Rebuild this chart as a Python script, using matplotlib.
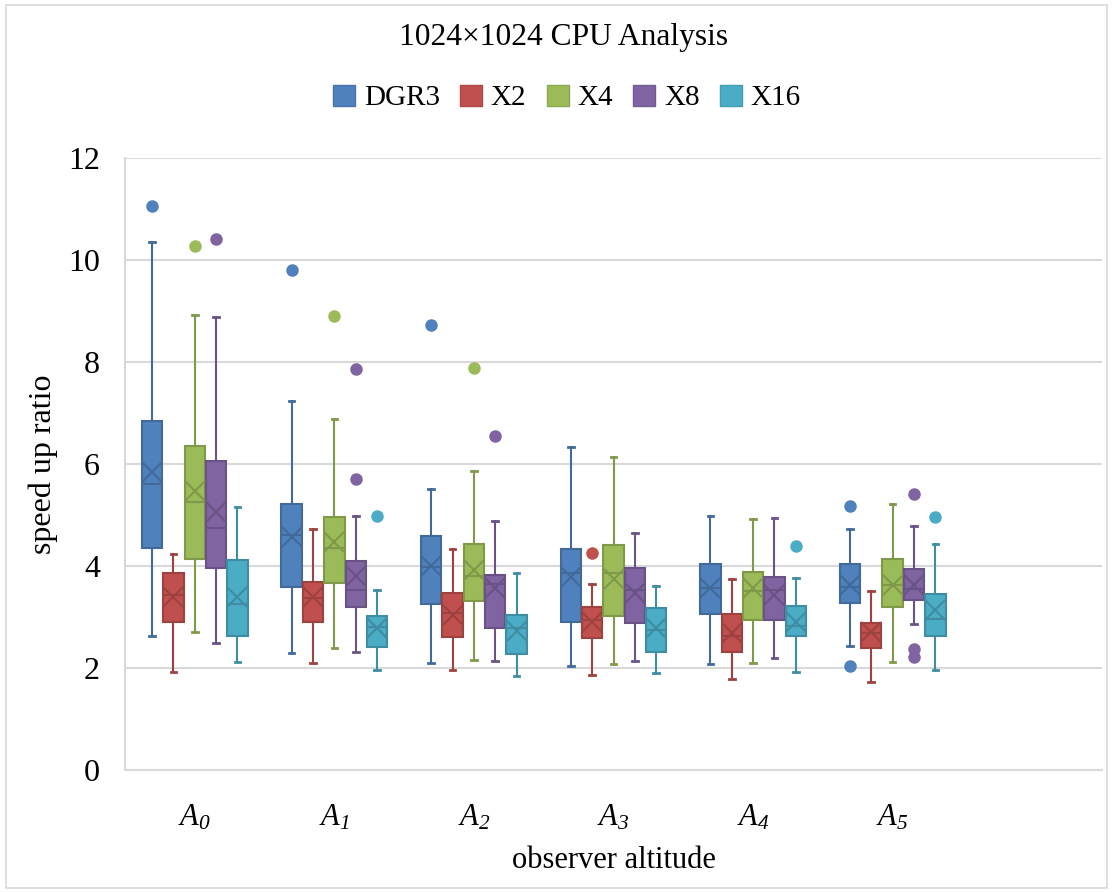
import numpy as np
import matplotlib
matplotlib.use('Agg')
import matplotlib.pyplot as plt
from matplotlib.patches import Patch, Rectangle
from matplotlib.colors import to_rgb

plt.rcParams['font.family'] = 'Liberation Serif'
# math text is only used for the italic group labels
plt.rcParams['mathtext.fontset'] = 'custom'
plt.rcParams['mathtext.rm'] = 'Liberation Serif:italic'
plt.rcParams['mathtext.it'] = 'Liberation Serif:italic'

groups = [r'$A_0$', r'$A_1$', r'$A_2$', r'$A_3$', r'$A_4$', r'$A_5$']
series = ['DGR3', 'X2', 'X4', 'X8', 'X16']
fills = ['#4F81BD', '#C0504D', '#9BBB59', '#8064A2', '#4BACC6']

# five-number summaries per series, one value per altitude group
dgr3_hi = [10.35, 7.24, 5.51, 6.34, 4.98, 4.73]
dgr3_q3 = [6.85, 5.22, 4.59, 4.33, 4.03, 4.03]
dgr3_med = [5.61, 4.60, 3.99, 3.87, 3.56, 3.59]
dgr3_mean = [5.85, 4.57, 4.00, 3.79, 3.56, 3.63]
dgr3_q1 = [4.36, 3.59, 3.25, 2.91, 3.05, 3.27]
dgr3_lo = [2.63, 2.30, 2.09, 2.03, 2.07, 2.43]
dgr3_out = [[11.06], [9.80], [8.73], [], [], [5.18, 2.03]]

x2_hi = [4.24, 4.73, 4.33, 3.64, 3.74, 3.51]
x2_q3 = [3.87, 3.69, 3.48, 3.19, 3.05, 2.88]
x2_med = [3.43, 3.37, 3.08, 2.95, 2.63, 2.68]
x2_mean = [3.40, 3.39, 3.04, 2.91, 2.69, 2.70]
x2_q1 = [2.91, 2.91, 2.61, 2.59, 2.31, 2.39]
x2_lo = [1.93, 2.09, 1.96, 1.86, 1.78, 1.73]
x2_out = [[], [], [], [4.26], [], []]

x4_hi = [8.93, 6.89, 5.86, 6.14, 4.92, 5.22]
x4_q3 = [6.35, 4.97, 4.43, 4.41, 3.88, 4.14]
x4_med = [5.26, 4.36, 3.80, 3.87, 3.51, 3.63]
x4_mean = [5.48, 4.48, 3.93, 3.74, 3.56, 3.63]
x4_q1 = [4.13, 3.66, 3.32, 3.01, 2.95, 3.19]
x4_lo = [2.71, 2.40, 2.16, 2.07, 2.09, 2.12]
x4_out = [[10.27], [8.91], [7.89], [], [], []]

x8_hi = [8.89, 4.98, 4.89, 4.64, 4.95, 4.79]
x8_q3 = [6.06, 4.10, 3.83, 3.97, 3.78, 3.94]
x8_med = [4.74, 3.52, 3.64, 3.52, 3.52, 3.54]
x8_mean = [5.05, 3.80, 3.56, 3.48, 3.43, 3.63]
x8_q1 = [3.97, 3.19, 2.79, 2.88, 2.95, 3.33]
x8_lo = [2.50, 2.31, 2.14, 2.14, 2.20, 2.86]
x8_out = [[10.42], [7.87, 5.70], [6.54], [], [], [5.42, 2.38, 2.21]]

x16_hi = [5.16, 3.53, 3.87, 3.61, 3.76, 4.43]
x16_q3 = [4.12, 3.01, 3.04, 3.17, 3.22, 3.45]
x16_med = [3.25, 2.81, 2.78, 2.75, 2.83, 2.97]
x16_mean = [3.40, 2.78, 2.72, 2.78, 2.91, 3.14]
x16_q1 = [2.63, 2.42, 2.27, 2.32, 2.62, 2.63]
x16_lo = [2.12, 1.96, 1.85, 1.90, 1.93, 1.97]
x16_out = [[], [4.99], [], [], [4.39], [4.97]]

summaries = [
    (dgr3_lo, dgr3_q1, dgr3_med, dgr3_q3, dgr3_hi, dgr3_mean, dgr3_out),
    (x2_lo, x2_q1, x2_med, x2_q3, x2_hi, x2_mean, x2_out),
    (x4_lo, x4_q1, x4_med, x4_q3, x4_hi, x4_mean, x4_out),
    (x8_lo, x8_q1, x8_med, x8_q3, x8_hi, x8_mean, x8_out),
    (x16_lo, x16_q1, x16_med, x16_q3, x16_hi, x16_mean, x16_out),
]


def darker(c, f=0.8):
    r, g, b = to_rgb(c)
    return (r * f, g * f, b * f)


fig = plt.figure(figsize=(11.12, 8.92), dpi=100)
ax = fig.add_axes([125 / 1112, 122 / 892, 977 / 1112, 612 / 892])

# outer chart border
fig.patches.append(Rectangle((6 / 1112, 4 / 892), 1101 / 1112, 883 / 892,
                             transform=fig.transFigure, fill=False,
                             edgecolor='#D9D9D9', linewidth=1.2))

centers = np.arange(len(groups))
step = 0.153
width = 0.146

for i, (name, col) in enumerate(zip(series, fills)):
    lo, q1, med, q3, hi, mean, out = summaries[i]
    stats = []
    for g in range(len(groups)):
        stats.append(dict(whislo=lo[g], q1=q1[g], med=med[g], q3=q3[g],
                          whishi=hi[g], mean=mean[g], fliers=out[g]))
    ec = darker(col, 0.82)
    pos = centers + (i - 2) * step
    ax.bxp(stats, positions=pos, widths=width, patch_artist=True,
           showmeans=True, manage_ticks=False, capwidths=0.04,
           boxprops=dict(facecolor=col, edgecolor=ec, linewidth=1.5),
           medianprops=dict(color=ec, linewidth=1.5),
           whiskerprops=dict(color=ec, linewidth=1.5),
           capprops=dict(color=ec, linewidth=2),
           meanprops=dict(marker='x', markersize=15, markeredgecolor=ec,
                          markeredgewidth=1.5),
           flierprops=dict(marker='o', markersize=8, markerfacecolor=col,
                           markeredgecolor=col))

ax.set_xlim(-0.5, 6.5)
ax.set_ylim(0, 12)
ax.set_yticks(np.arange(0, 13, 2))
ax.set_xticks(centers)
ax.set_xticklabels(groups, fontsize=22)
ax.tick_params(axis='y', length=0, pad=18, labelsize=23)
ax.tick_params(axis='x', length=0, pad=24)
ax.grid(axis='y', color='#D9D9D9', linewidth=1.5)
ax.set_axisbelow(True)
for s in ['top', 'right']:
    ax.spines[s].set_visible(False)
for s in ['left', 'bottom']:
    ax.spines[s].set_color('#D9D9D9')
    ax.spines[s].set_linewidth(1.5)

ax.set_ylabel('speed up ratio', fontsize=23)
ax.set_xlabel('observer altitude', fontsize=22)
ax.yaxis.set_label_coords(-0.069, 0.5)
ax.xaxis.set_label_coords(0.5, -0.125)

fig.text(564 / 1112, 1 - 37 / 892, '1024\u00d71024 CPU Analysis',
         ha='center', va='center', fontsize=22.7)

handles = [Patch(facecolor=c, edgecolor=darker(c, 0.9), label=n)
           for n, c in zip(series, fills)]
fig.legend(handles=handles, loc='center', ncol=5, frameon=False,
           bbox_to_anchor=(567 / 1112, 1 - 98 / 892), fontsize=21,
           handlelength=0.75, handleheight=0.75, handletextpad=0.3,
           columnspacing=0.7)

fig.savefig('out.png', dpi=100)
